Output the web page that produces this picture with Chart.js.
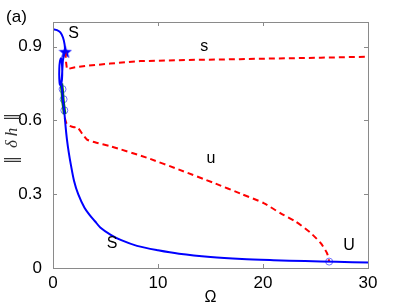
<!DOCTYPE html>
<html><head><meta charset="utf-8">
<script src="https://cdn.jsdelivr.net/npm/chart.js@4/dist/chart.umd.min.js"></script>
<style>html,body{margin:0;padding:0;background:#fff;overflow:hidden}</style>
</head><body>
<canvas id="c" width="407" height="305"></canvas>
<script>
// ---- data ----
const xTicks = [0, 10, 20, 30];
const yTicks = [0, 0.3, 0.6, 0.9];
// stable branch (blue), upper part ending at the star
const blueTopOmega = [0, 0.38, 0.7, 0.95, 1.1, 1.17];
const blueTopNorm  = [0.971, 0.967, 0.958, 0.937, 0.91, 0.879];
// spiral loop between star and green segment
const loopOmega = [1.17, 1.05, 0.95, 0.9, 0.86, 0.78, 0.66, 0.6, 0.6, 0.66, 0.76, 0.84, 0.88, 0.86, 0.8];
const loopNorm  = [0.879, 0.865, 0.845, 0.815, 0.785, 0.755, 0.745, 0.77, 0.81, 0.84, 0.852, 0.835, 0.80, 0.77, 0.75];
// lower stable branch
const blueLoOmega = [0.8, 0.88, 0.95, 1.05, 1.1, 1.2, 1.33, 1.5, 1.7, 2.0, 2.4, 3.0, 3.5, 4.0, 4.5, 5.5, 6.5, 8.0, 10, 12, 15, 18, 21, 24, 27, 30];
const blueLoNorm  = [0.75, 0.72, 0.68, 0.645, 0.624, 0.575, 0.522, 0.47, 0.42, 0.355, 0.30, 0.245, 0.215, 0.19, 0.165, 0.135, 0.113, 0.09, 0.072, 0.058, 0.045, 0.037, 0.032, 0.028, 0.025, 0.022];
// unstable branch "s" (upper red dashed)
const redUpOmega = [1.17, 1.25, 1.33, 2.0, 3.24, 5.46, 8.3, 12, 17.8, 25.5, 30];
const redUpNorm  = [0.879, 0.835, 0.808, 0.815, 0.822, 0.831, 0.841, 0.845, 0.849, 0.855, 0.859];
// unstable branch "u" (lower red dashed)
const redLoOmega = [1.12, 1.33, 2.0, 2.3, 2.8, 3.24, 4.0, 5.46, 8.95, 12, 15.3, 18, 20.06, 21.65, 23.1, 24.5, 25.5, 26.1, 26.3];
const redLoNorm  = [0.61, 0.584, 0.572, 0.574, 0.545, 0.522, 0.511, 0.495, 0.448, 0.40, 0.346, 0.30, 0.264, 0.223, 0.189, 0.144, 0.101, 0.06, 0.026];
// green segment
const greenOmega = [0.8, 0.88, 0.95, 1.05, 1.1];
const greenNorm  = [0.75, 0.72, 0.68, 0.645, 0.625];
// open circles
const circOmega = [0.91, 1.01, 1.08, 26.3];
const circNorm  = [0.727, 0.686, 0.641, 0.026];
// star
const starOmega = [1.17];
const starNorm  = [0.879];
// text labels (data coords)
const labelText  = ['S', 's', 'u', 'S', 'U'];
const labelOmega = [1.96, 14.4, 15.05, 5.62, 28.2];
const labelNorm  = [0.951, 0.90, 0.445, 0.098, 0.091];

const pts = (xs, ys) => xs.map((x, i) => ({x: x, y: ys[i]}));

// filled five-point star image
const starImg = document.createElement('canvas');
starImg.width = 14; starImg.height = 14;
(function(){
  const g = starImg.getContext('2d');
  g.fillStyle = '#0000ff';
  g.beginPath();
  for (let i = 0; i < 10; i++) {
    const r = i % 2 === 0 ? 7 : 2.9;
    const a = -Math.PI / 2 + i * Math.PI / 5;
    const px = 7 + r * Math.cos(a), py = 7.5 + r * Math.sin(a);
    if (i === 0) g.moveTo(px, py); else g.lineTo(px, py);
  }
  g.closePath(); g.fill();
})();

const FONT = "'Liberation Sans', Arial, Helvetica, sans-serif";
const GRAY = '#8a8a8a';

const framePlugin = {
  id: 'frame',
  afterDraw(chart) {
    const ctx = chart.ctx, a = chart.chartArea;
    const xs = chart.scales.x, ys = chart.scales.y;
    ctx.save();
    ctx.strokeStyle = GRAY; ctx.lineWidth = 1;
    ctx.strokeRect(Math.round(a.left) + 0.5, Math.round(a.top) + 0.5, Math.round(a.right - a.left), Math.round(a.bottom - a.top));
    ctx.beginPath();
    xTicks.forEach(v => {
      const px = Math.round(xs.getPixelForValue(v)) + 0.5;
      ctx.moveTo(px, a.bottom); ctx.lineTo(px, a.bottom - 4);
      ctx.moveTo(px, a.top); ctx.lineTo(px, a.top + 4);
    });
    yTicks.forEach(v => {
      const py = Math.round(ys.getPixelForValue(v)) + 0.5;
      ctx.moveTo(a.left, py); ctx.lineTo(a.left + 4, py);
      ctx.moveTo(a.right, py); ctx.lineTo(a.right - 4, py);
    });
    ctx.stroke();
    // annotations
    ctx.fillStyle = '#000';
    ctx.textAlign = 'center'; ctx.textBaseline = 'middle';
    ctx.font = '16px ' + FONT;
    labelText.forEach((t, i) => {
      ctx.fillText(t, xs.getPixelForValue(labelOmega[i]), ys.getPixelForValue(labelNorm[i]));
    });
    ctx.font = '17px ' + FONT;
    ctx.fillText('(a)', 16.5, 17);
    // x title
    ctx.font = '16px ' + FONT;
    ctx.fillText('Ω', (a.left + a.right) / 2, 298);
    // y title, rotated
    ctx.translate(13, 138);
    ctx.rotate(-Math.PI / 2);
    ctx.fillStyle = '#333';
    ctx.font = "17px 'DejaVu Serif', serif";
    ctx.fillText('‖', -22, 0);
    ctx.fillText('‖', 21, 0);
    ctx.font = "italic 17px 'Liberation Serif', serif";
    ctx.fillText('δ', -6, 0);
    ctx.fillText('h', 6, 0);
    ctx.restore();
  }
};

new Chart(document.getElementById('c'), {
  type: 'scatter',
  data: {
    datasets: [
      {data: pts(blueTopOmega, blueTopNorm), showLine: true, borderColor: '#0000ff', borderWidth: 2, pointRadius: 0, tension: 0.3},
      {data: pts(loopOmega, loopNorm), showLine: true, borderColor: '#0000ff', borderWidth: 2, pointRadius: 0, tension: 0.3},
      {data: pts(blueLoOmega, blueLoNorm), showLine: true, borderColor: '#0000ff', borderWidth: 2, pointRadius: 0, tension: 0.3},
      {data: pts(redUpOmega, redUpNorm), showLine: true, borderColor: '#ff0000', borderWidth: 2, borderDash: [6, 4], pointRadius: 0, tension: 0},
      {data: pts(redLoOmega, redLoNorm), showLine: true, borderColor: '#ff0000', borderWidth: 2, borderDash: [6, 4], pointRadius: 0, tension: 0.2},
      {data: pts(greenOmega, greenNorm), showLine: true, borderColor: '#008000', borderWidth: 3.5, pointRadius: 0, tension: 0.3},
      {data: pts(circOmega, circNorm), showLine: false, pointStyle: 'circle', pointRadius: 3.5, borderColor: '#6f6fff', backgroundColor: 'rgba(0,0,0,0)', borderWidth: 1},
      {data: pts(starOmega, starNorm), showLine: false, pointStyle: starImg, pointRadius: 7}
    ]
  },
  options: {
    responsive: false, animation: false, devicePixelRatio: 1,
    layout: {padding: {left: 0, top: 22, right: 39, bottom: 0}},
    plugins: {legend: {display: false}, tooltip: {enabled: false}},
    scales: {
      x: {
        type: 'linear', min: 0, max: 30,
        afterBuildTicks: s => { s.ticks = xTicks.map(v => ({value: v})); },
        afterFit: s => { s.height = 37; },
        grid: {display: false}, border: {display: false},
        ticks: {padding: -3, color: '#000', font: {family: FONT, size: 17}, maxRotation: 0, callback: v => String(v)}
      },
      y: {
        type: 'linear', min: 0, max: 1.0,
        afterBuildTicks: s => { s.ticks = yTicks.map(v => ({value: v})); },
        afterFit: s => { s.width = 53; },
        grid: {display: false}, border: {display: false},
        ticks: {padding: 3, color: '#000', font: {family: FONT, size: 17}, callback: v => String(v)}
      }
    }
  },
  plugins: [framePlugin]
});
</script>
</body></html>
